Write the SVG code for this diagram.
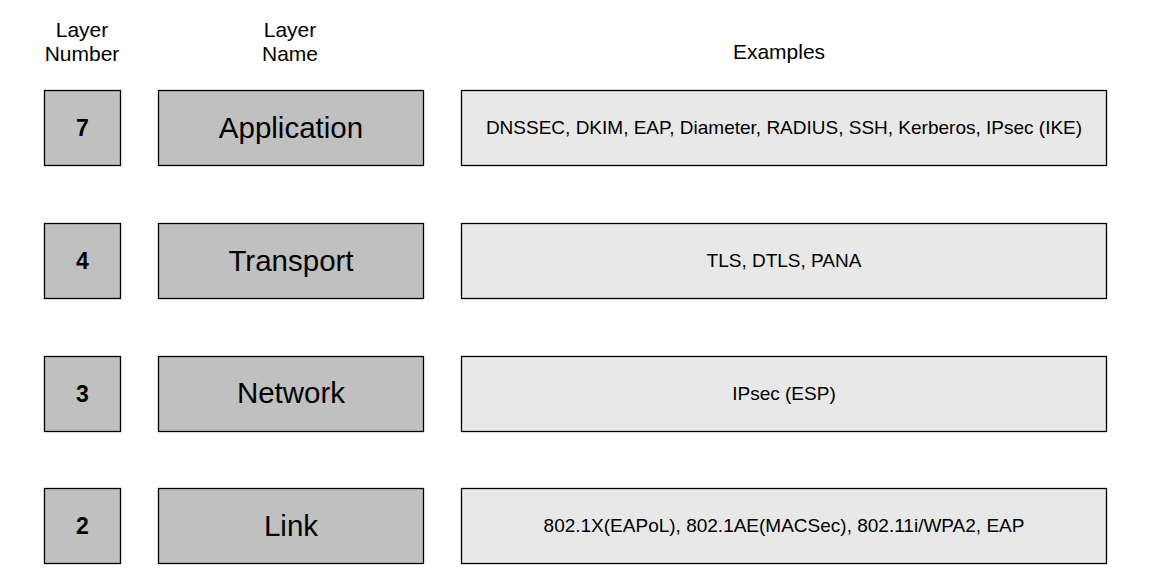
<svg xmlns="http://www.w3.org/2000/svg" width="1151" height="584" viewBox="0 0 1151 584">
<style>
text{font-family:"Liberation Sans",Arial,sans-serif;fill:#000;text-anchor:middle}
.hd{font-size:21px}
.num{font-size:23px;font-weight:bold}
.nm{font-size:29.5px}
.ex{font-size:19px}
.g{fill:#c0c0c0;stroke:#000;stroke-width:1.3}
.e{fill:#e8e8e8;stroke:#000;stroke-width:1.3}
</style>
<rect width="1151" height="584" fill="#fff"/>
<g id="headers">
<text class="hd" x="82" y="37">Layer</text>
<text class="hd" x="82" y="61">Number</text>
<text class="hd" x="290" y="37">Layer</text>
<text class="hd" x="290" y="61">Name</text>
<text class="hd" x="779" y="59">Examples</text>
</g>
<g id="row7">
<rect class="g" x="44.5" y="90.5" width="76" height="75"/>
<text class="num" x="82.5" y="136">7</text>
<rect class="g" x="158.5" y="90.5" width="265" height="75"/>
<text class="nm" x="291" y="138">Application</text>
<rect class="e" x="461.5" y="90.5" width="645" height="75"/>
<text class="ex" x="784" y="134">DNSSEC, DKIM, EAP, Diameter, RADIUS, SSH, Kerberos, IPsec (IKE)</text>
</g>
<g id="row4">
<rect class="g" x="44.5" y="223.5" width="76" height="75"/>
<text class="num" x="82.5" y="269">4</text>
<rect class="g" x="158.5" y="223.5" width="265" height="75"/>
<text class="nm" x="291" y="271">Transport</text>
<rect class="e" x="461.5" y="223.5" width="645" height="75"/>
<text class="ex" x="784" y="267">TLS, DTLS, PANA</text>
</g>
<g id="row3">
<rect class="g" x="44.5" y="356.5" width="76" height="75"/>
<text class="num" x="82.5" y="402">3</text>
<rect class="g" x="158.5" y="356.5" width="265" height="75"/>
<text class="nm" x="291" y="403">Network</text>
<rect class="e" x="461.5" y="356.5" width="645" height="75"/>
<text class="ex" x="784" y="400">IPsec (ESP)</text>
</g>
<g id="row2">
<rect class="g" x="44.5" y="488.5" width="76" height="75"/>
<text class="num" x="82.5" y="534">2</text>
<rect class="g" x="158.5" y="488.5" width="265" height="75"/>
<text class="nm" x="291" y="536">Link</text>
<rect class="e" x="461.5" y="488.5" width="645" height="75"/>
<text class="ex" x="784" y="532">802.1X(EAPoL), 802.1AE(MACSec), 802.11i/WPA2, EAP</text>
</g>
<g id="connectors"></g>
</svg>
